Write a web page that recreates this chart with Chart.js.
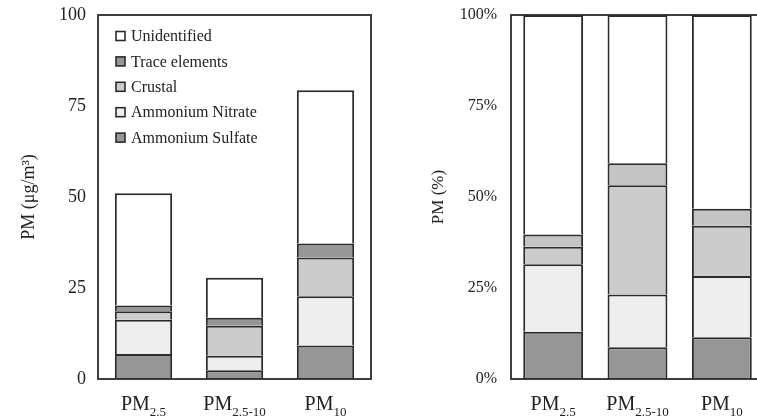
<!DOCTYPE html>
<html>
<head>
<meta charset="utf-8">
<script src="https://cdn.jsdelivr.net/npm/chart.js@4"></script>
<style>
  html, body { margin: 0; padding: 0; overflow: hidden; background: #fff; width: 757px; height: 420px; }
  .box { position: absolute; top: 0; height: 420px; }
  #left { left: 0; width: 380px; }
  #right { left: 380px; width: 400px; }
</style>
</head>
<body>
<div class="box" id="left"><canvas id="massChart"></canvas></div>
<div class="box" id="right"><canvas id="pctChart"></canvas></div>
<script>
const categories = ["PM2.5", "PM2.5-10", "PM10"];
const seriesNames = ["Ammonium Sulfate", "Ammonium Nitrate", "Crustal", "Trace elements", "Unidentified"];

// mass concentration, µg/m3
const massSulfate = [6.9, 2.4, 9.2];
const massNitrate = [9.4, 4.0, 13.5];
const massCrustal = [2.3, 8.2, 10.7];
const massTrace = [1.6, 2.2, 3.8];
const massUnidentified = [30.8, 11.0, 42.1];

// share of total, %
const pctSulfate = [13.0, 8.7, 11.5];
const pctNitrate = [18.5, 14.5, 16.8];
const pctCrustal = [4.8, 30.0, 13.8];
const pctTrace = [3.4, 6.1, 4.7];
const pctUnidentified = [60.3, 40.7, 53.2];

const yTicks = [0, 25, 50, 75, 100];

const serif = "'Liberation Serif', 'Times New Roman', serif";
const ink = "#2b2b2b";

const makeSets = (values, colors) =>
  values.map((data, i) => ({
    label: seriesNames[i],
    data: [...data],
    backgroundColor: colors[i],
    borderColor: ink,
    borderWidth: { top: 2, left: 2, right: 2, bottom: 0 },
    borderSkipped: false,
  }));

const framePlugin = {
  id: "frame",
  afterDraw(chart) {
    const { ctx, chartArea: a } = chart;
    ctx.save();
    ctx.strokeStyle = ink;
    ctx.lineWidth = 1.8;
    ctx.strokeRect(a.left, a.top, a.right - a.left, a.bottom - a.top);
    ctx.restore();
  },
};

// x labels with subscripts: "PM" + small text below
const subLabels = {
  id: "subLabels",
  afterDraw(chart) {
    const { ctx, chartArea: a } = chart;
    const xs = chart.scales.x;
    ctx.save();
    ctx.fillStyle = "#222";
    ctx.textBaseline = "alphabetic";
    categories.forEach((c, i) => {
      const main = c.slice(0, 2);
      const sub = c.slice(2);
      ctx.font = "20px " + serif;
      const w1 = ctx.measureText(main).width;
      ctx.font = "13px " + serif;
      const w2 = ctx.measureText(sub).width;
      const x0 = xs.getPixelForValue(i) - (w1 + w2) / 2;
      ctx.font = "20px " + serif;
      ctx.fillText(main, x0, a.bottom + 31);
      ctx.font = "13px " + serif;
      ctx.fillText(sub, x0 + w1, a.bottom + 37);
    });
    ctx.restore();
  },
};

const boxLegend = {
  id: "boxLegend",
  afterDraw(chart) {
    const { ctx, chartArea: a } = chart;
    const items = chart.data.datasets.slice().reverse();
    ctx.save();
    ctx.font = "16px " + serif;
    ctx.textBaseline = "middle";
    items.forEach((ds, k) => {
      const bx = a.left + 18;
      const y = a.top + 21 + k * 25.4;
      ctx.fillStyle = ds.backgroundColor;
      ctx.fillRect(bx, y - 4.5, 9, 9);
      ctx.strokeStyle = ink;
      ctx.lineWidth = 1.6;
      ctx.strokeRect(bx, y - 4.5, 9, 9);
      ctx.fillStyle = "#222";
      ctx.fillText(ds.label, bx + 15, y + 1);
    });
    ctx.restore();
  },
};

const initChart = (el, datasets, opts) => {
  const config = {
    type: "bar",
    data: { labels: [...categories], datasets },
    options: {
      responsive: true,
      maintainAspectRatio: false,
      animation: false,
      layout: { padding: opts.padding },
      datasets: { bar: { categoryPercentage: 1, barPercentage: opts.barPct } },
      plugins: { legend: false, tooltip: { enabled: false } },
      scales: {
        x: {
          stacked: true,
          grid: { display: false },
          border: { display: false },
          ticks: { display: false },
          afterFit: (s) => { s.height = 41; },
        },
        y: {
          stacked: true,
          min: 0,
          max: 100,
          afterBuildTicks: (s) => { s.ticks = yTicks.map((v) => ({ value: v })); },
          grid: { display: false, drawTicks: false },
          border: { display: false },
          ticks: {
            padding: opts.tickPad,
            color: "#222",
            font: { family: serif, size: opts.tickSize },
            callback: opts.tickFmt,
          },
          title: {
            display: true,
            text: opts.title,
            color: "#222",
            font: { family: serif, size: opts.titleSize },
          },
          afterFit: (s) => {
            s.width = opts.axisWidth;
            s.paddingTop = 0;
            s.paddingBottom = 0;
          },
        },
      },
    },
    plugins: opts.plugins,
  };
  return new Chart(el, config);
};

initChart(
  document.getElementById("massChart"),
  makeSets(
    [massSulfate, massNitrate, massCrustal, massTrace, massUnidentified],
    ["#969696", "#eeeeee", "#cccccc", "#969696", "#ffffff"]
  ),
  {
    padding: { left: 14, top: 15, right: 9, bottom: 0 },
    barPct: 0.63,
    tickPad: 12,
    tickSize: 18,
    tickFmt: (v) => v,
    title: "PM (μg/m³)",
    titleSize: 18,
    axisWidth: 84,
    plugins: [framePlugin, subLabels, boxLegend],
  }
);

initChart(
  document.getElementById("pctChart"),
  makeSets(
    [pctSulfate, pctNitrate, pctCrustal, pctTrace, pctUnidentified],
    ["#969696", "#eeeeee", "#cccccc", "#c4c4c4", "#ffffff"]
  ),
  {
    padding: { left: 44, top: 15, right: 16, bottom: 0 },
    barPct: 0.71,
    tickPad: 14,
    tickSize: 16,
    tickFmt: (v) => v + "%",
    title: "PM (%)",
    titleSize: 17,
    axisWidth: 87,
    plugins: [framePlugin, subLabels],
  }
);
</script>
</body>
</html>
